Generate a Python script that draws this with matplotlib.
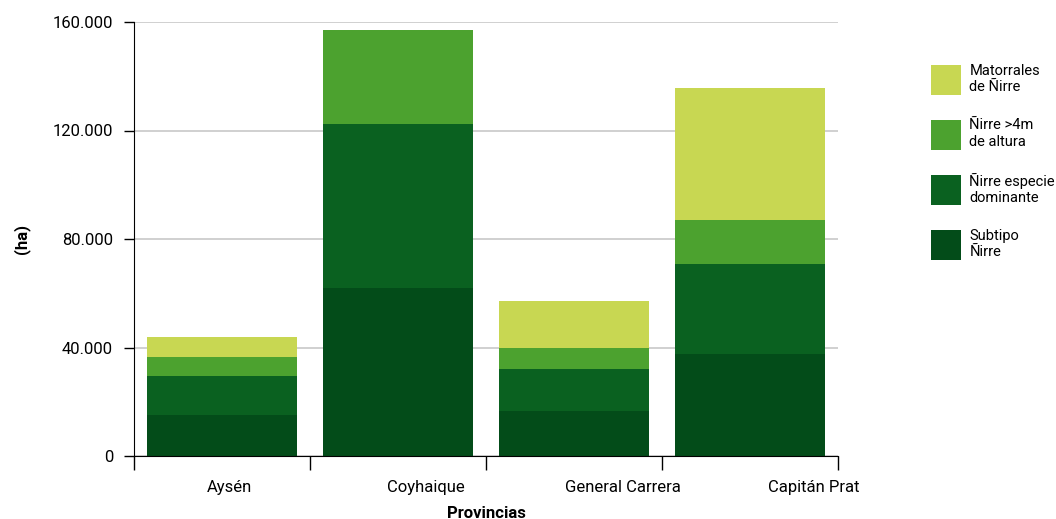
import matplotlib.pyplot as plt
from matplotlib.ticker import FuncFormatter

provincias = ["Aysén", "Coyhaique", "General Carrera", "Capitán Prat"]
subtipo = [15100, 62000, 16600, 37700]
especie_dominante = [14400, 60500, 15500, 33100]
altura_4m = [7000, 34600, 7700, 16200]
matorrales = [7400, 0, 17300, 48700]

series = [
    ("Subtipo\nÑirre", subtipo, "#034c19"),
    ("Ñirre especie\ndominante", especie_dominante, "#0a6120"),
    ("Ñirre >4m\nde altura", altura_4m, "#4ca22f"),
    ("Matorrales\nde Ñirre", matorrales, "#c8d752"),
]

plt.rcParams["font.family"] = ["Roboto", "DejaVu Sans"]
plt.rcParams["font.size"] = 12

fig = plt.figure(figsize=(10.56, 5.19), dpi=100)
ax = fig.add_axes([134 / 1056, 63 / 519, 704 / 1056, 434 / 519])

x = list(range(len(provincias)))
bottom = [0] * len(provincias)
handles = []
for label, vals, color in series:
    b = ax.bar(x, vals, width=0.85, bottom=bottom, color=color, label=label, zorder=2)
    handles.append(b)
    bottom = [b0 + v for b0, v in zip(bottom, vals)]

ax.set_xlim(-0.5, len(provincias) - 0.5)
ax.set_ylim(0, 160000)
ax.set_yticks([0, 40000, 80000, 120000, 160000])
ax.yaxis.set_major_formatter(FuncFormatter(lambda v, p: f"{int(v):,}".replace(",", ".")))
ax.grid(axis="y", color="#c8c8c8", linewidth=1.2, zorder=0)
ax.set_axisbelow(True)

# ticks at category boundaries, labels slightly shifted as in the original
ax.set_xticks([i - 0.5 for i in range(len(provincias) + 1)])
ax.set_xticklabels([])
ax.tick_params(axis="x", which="major", length=10, width=1, color="black")
label_shift = [0.04, 0.16, 0.28, 0.36]
ax.set_xticks([i + s for i, s in zip(x, label_shift)], minor=True)
ax.set_xticklabels(provincias, minor=True)
ax.tick_params(axis="x", which="minor", length=0, pad=17)
ax.tick_params(axis="y", length=7, width=1, color="black", pad=8)

for side in ["top", "right"]:
    ax.spines[side].set_visible(False)
ax.spines["left"].set_color("black")
ax.spines["bottom"].set_color("black")

ax.set_xlabel("Provincias", fontweight="bold", labelpad=8)
ax.set_ylabel("(ha)", fontweight="bold", labelpad=16)

fig.legend(handles[::-1], [s[0] for s in series][::-1], loc="upper left",
           bbox_to_anchor=(925 / 1056, 1 - 58 / 519), frameon=False,
           handlelength=2.05, handleheight=2.8, labelspacing=1.6,
           handletextpad=0.6, fontsize=10.5, borderaxespad=0)

fig.savefig("out.png", dpi=100)
